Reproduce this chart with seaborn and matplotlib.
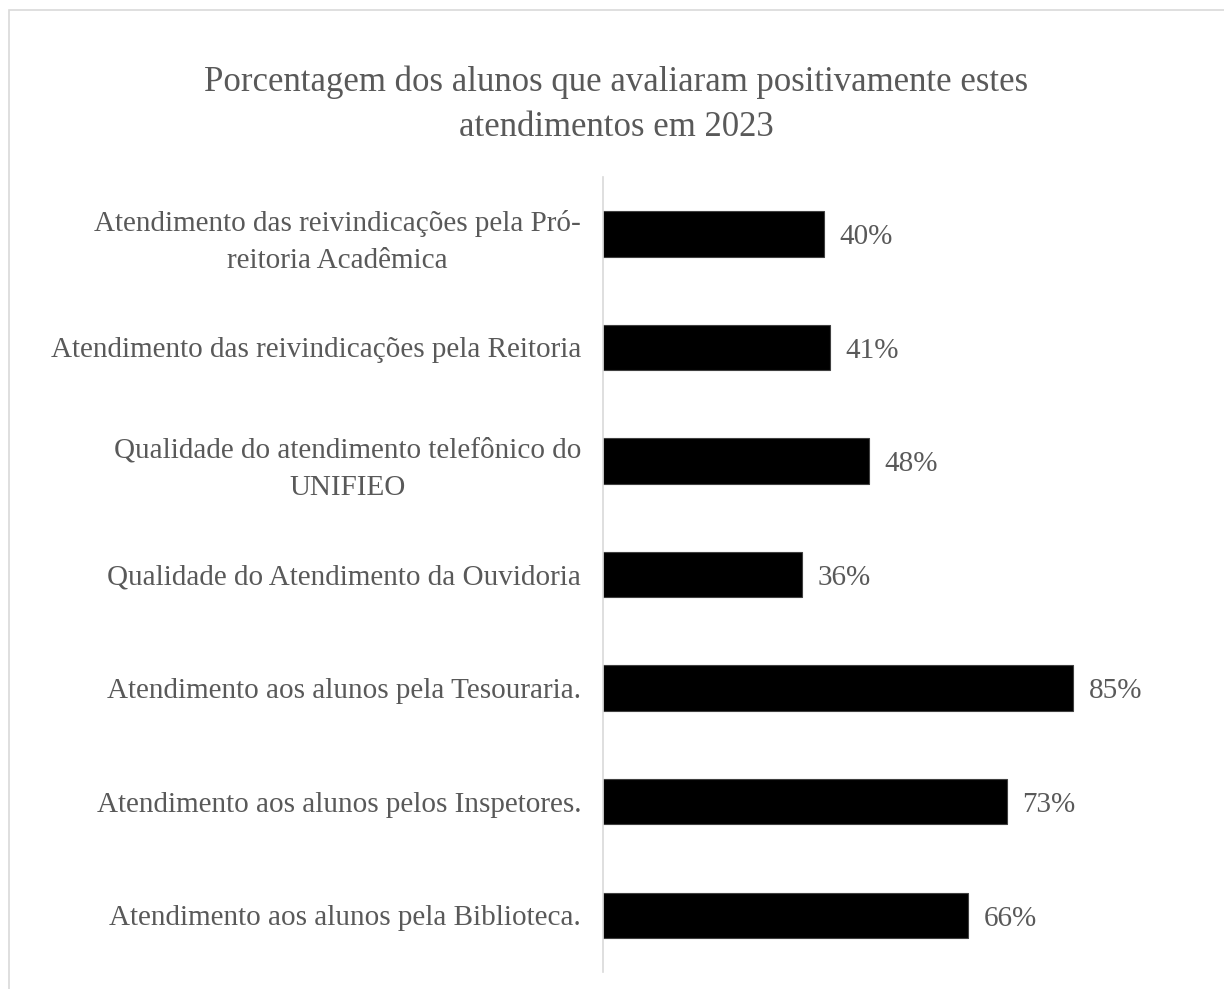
import matplotlib
matplotlib.use("Agg")
import matplotlib.pyplot as plt
import matplotlib.patches as mpatches
import seaborn as sns
import pandas as pd

# dados
atendimentos = [
    "Atendimento das reivindicações pela Pró-\nreitoria Acadêmica",
    "Atendimento das reivindicações pela Reitoria",
    "Qualidade do atendimento telefônico do\nUNIFIEO",
    "Qualidade do Atendimento da Ouvidoria",
    "Atendimento aos alunos pela Tesouraria.",
    "Atendimento aos alunos pelos Inspetores.",
    "Atendimento aos alunos pela Biblioteca.",
]
percentuais = [40, 41, 48, 36, 85, 73, 66]

df = pd.DataFrame({"Atendimento": atendimentos, "Percentual": percentuais})

sns.set_style("white")
plt.rcParams["font.family"] = ["Liberation Serif", "DejaVu Serif"]
cinza = "#595959"

fig = plt.figure(figsize=(12.24, 9.89), dpi=100)
ax = fig.add_axes([603.3 / 1224, 1 - 972 / 989, 552.5 / 1224, 795 / 989])

sns.barplot(data=df, x="Percentual", y="Atendimento", orient="h", color="black",
            width=0.4, edgecolor="#404040", linewidth=0.8, ax=ax, saturation=1)

ax.set_xlim(0, 100)
ax.set_ylim(6.5, -0.5)
ax.set_xlabel("")
ax.set_ylabel("")
ax.set_xticks([])
for s in ["top", "right", "bottom"]:
    ax.spines[s].set_visible(False)
ax.spines["left"].set_color("#d9d9d9")
ax.spines["left"].set_linewidth(1.2)
ax.tick_params(axis="y", length=0, pad=16, labelsize=21, labelcolor=cinza)
for lbl in ax.get_yticklabels():
    lbl.set_multialignment("center")
    lbl.set_linespacing(1.55)

for i, v in enumerate(percentuais):
    ax.text(v + 2.8, i + 0.03, f"{v}%", va="center", ha="left", fontsize=21, color=cinza)

fig.text(616 / 1224, 1 - 105 / 989,
         "Porcentagem dos alunos que avaliaram positivamente estes\natendimentos em 2023",
         ha="center", va="center", fontsize=25, color=cinza, linespacing=1.5)

# borda do grafico
fig.patches.append(mpatches.Rectangle((9 / 1224, -0.1), 1.2, 1.1 - 9.5 / 989,
                                      transform=fig.transFigure, fill=False,
                                      edgecolor="#d9d9d9", linewidth=1.2))

fig.savefig("out.png", dpi=100)
